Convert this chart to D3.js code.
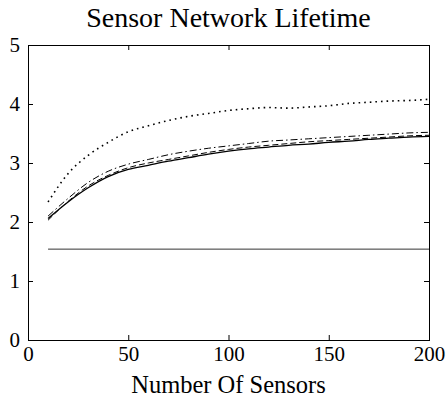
<!DOCTYPE html>
<html>
<head>
<meta charset="utf-8">
<script src="https://cdn.jsdelivr.net/npm/d3@7"></script>
<style>
  body { margin: 0; background: #fff; }
  svg { display: block; }
  svg text { font-family: "Liberation Serif", "Times New Roman", serif !important; }
</style>
</head>
<body>
<div id="chart"></div>
<script>
/********** Data **********/
var sensors = [10, 20, 30, 40, 50, 60, 70, 80, 90, 100, 110, 120, 130, 140, 150, 160, 170, 180, 190, 200]
var dotted  = [2.34, 2.82, 3.13, 3.35, 3.53, 3.63, 3.72, 3.79, 3.84, 3.89, 3.92, 3.94, 3.93, 3.95, 3.97, 4.01, 4.03, 4.05, 4.06, 4.08]
var dashDot = [2.10, 2.40, 2.67, 2.86, 2.98, 3.06, 3.14, 3.20, 3.25, 3.29, 3.33, 3.37, 3.39, 3.41, 3.43, 3.45, 3.47, 3.49, 3.51, 3.52]
var dashed  = [2.03, 2.35, 2.61, 2.79, 2.92, 3.00, 3.06, 3.12, 3.18, 3.23, 3.27, 3.30, 3.33, 3.36, 3.38, 3.40, 3.42, 3.44, 3.46, 3.47]
var solid   = [2.06, 2.34, 2.58, 2.77, 2.89, 2.96, 3.03, 3.09, 3.15, 3.20, 3.24, 3.27, 3.30, 3.32, 3.35, 3.37, 3.40, 3.42, 3.44, 3.45]
var flat    = [1.54, 1.54]
var flatX   = [10, 200]
var xTicks = [0, 50, 100, 150, 200]
var yTicks = [0, 1, 2, 3, 4, 5]

/********** Layout **********/
var W = 446, H = 403
var margin = {top: 45, right: 17, bottom: 63, left: 28}
var width = W - margin.left - margin.right,
    height = H - margin.top - margin.bottom
var serif = "'Liberation Serif', 'Times New Roman', serif"

var svg = d3.select("#chart").append("svg")
    .attr("width", W)
    .attr("height", H)
  .append("g")
    .attr("transform", "translate(" + margin.left + "," + margin.top + ")")

var x = d3.scaleLinear().domain([0, 200]).range([0, width])
var y = d3.scaleLinear().domain([0, 5]).range([height, 0])
var fmt = d3.format("d")

// axes, MATLAB style: ticks pointing inwards on all four sides
function styleAxis(g) {
  g.attr("font-family", serif).attr("font-size", null)
  g.select(".domain").remove()
  g.selectAll("line").attr("stroke", "#000")
  g.selectAll("text").attr("fill", "#000").style("font-family", serif).style("font-size", "21px")
}
svg.append("g")
  .attr("transform", "translate(0," + height + ")")
  .call(d3.axisBottom(x).tickValues(xTicks).tickFormat(fmt).tickSizeInner(-5).tickSizeOuter(0).tickPadding(6))
  .call(styleAxis)
svg.append("g")
  .call(d3.axisTop(x).tickValues(xTicks).tickSizeInner(-5).tickSizeOuter(0).tickFormat(""))
  .call(styleAxis)
svg.append("g")
  .call(d3.axisLeft(y).tickValues(yTicks).tickFormat(fmt).tickSizeInner(-5).tickSizeOuter(0).tickPadding(8))
  .call(styleAxis)
svg.append("g")
  .attr("transform", "translate(" + width + ",0)")
  .call(d3.axisRight(y).tickValues(yTicks).tickSizeInner(-5).tickSizeOuter(0).tickFormat(""))
  .call(styleAxis)

// frame
svg.append("rect")
  .attr("x", 0.5).attr("y", 0.5)
  .attr("width", width).attr("height", height)
  .attr("fill", "none")
  .attr("stroke", "#000")
  .attr("stroke-width", 1)

/********** Lines **********/
var line = d3.line()
  .curve(d3.curveMonotoneX)
  .x(function(d) { return x(d[0]) })
  .y(function(d) { return y(d[1]) })

var series = [
  {vals: dotted,  dash: "1.6,4",     w: 1.6},
  {vals: dashDot, dash: "7,3,1.5,3", w: 1},
  {vals: dashed,  dash: "6,3",       w: 1},
  {vals: solid,   dash: null,        w: 1.3}
]
series.forEach(function(s) {
  svg.append("path")
    .datum(d3.zip(sensors, s.vals))
    .attr("fill", "none")
    .attr("stroke", "#000")
    .attr("stroke-width", s.w)
    .attr("stroke-dasharray", s.dash)
    .attr("d", line)
})
svg.append("path")
  .datum(d3.zip(flatX, flat))
  .attr("fill", "none")
  .attr("stroke", "#333")
  .attr("stroke-width", 1)
  .attr("d", line)

/********** Titles **********/
svg.append("text")
  .attr("x", width / 2)
  .attr("y", -18)
  .attr("text-anchor", "middle")
  .style("font-family", serif)
  .style("font-size", "28px")
  .text("Sensor Network Lifetime")

svg.append("text")
  .attr("x", width / 2)
  .attr("y", height + 53)
  .attr("text-anchor", "middle")
  .style("font-family", serif)
  .style("font-size", "24.5px")
  .text("Number Of Sensors")
</script>
</body>
</html>
